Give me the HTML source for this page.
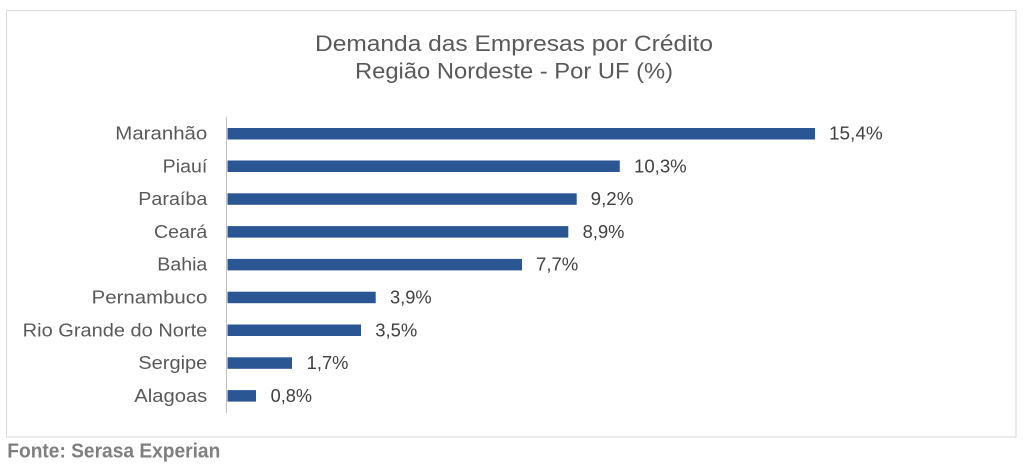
<!DOCTYPE html>
<html><head><meta charset="utf-8"><style>
html,body{margin:0;padding:0;background:#fff;}
svg{display:block;}
text{font-family:"Liberation Sans",Arial,sans-serif;}
</style></head><body>
<svg width="1024" height="468" viewBox="0 0 1024 468" xmlns="http://www.w3.org/2000/svg">
<rect x="0" y="0" width="1024" height="468" fill="#fff"/>
<rect x="6.5" y="10.5" width="1009.5" height="426.5" fill="#fff" stroke="#d9d9d9" stroke-width="1"/>
<g fill="#595959" font-size="22" text-anchor="middle">
<text x="514" y="51" textLength="398" lengthAdjust="spacingAndGlyphs">Demanda das Empresas por Crédito</text>
<text x="514" y="78.5" textLength="318" lengthAdjust="spacingAndGlyphs">Região Nordeste - Por UF (%)</text>
</g>
<line x1="226.5" y1="117" x2="226.5" y2="413" stroke="#bfbfbf" stroke-width="1"/>
<g fill="#2b5694">
<rect x="227.5" y="128" width="587.5" height="11.5"/>
<rect x="227.5" y="160.5" width="392.3" height="11.5"/>
<rect x="227.5" y="193.3" width="349.2" height="11.5"/>
<rect x="227.5" y="226.1" width="340.8" height="11.5"/>
<rect x="227.5" y="258.9" width="294.5" height="11.5"/>
<rect x="227.5" y="291.7" width="148.2" height="11.5"/>
<rect x="227.5" y="324.5" width="133.5" height="11.5"/>
<rect x="227.5" y="357.3" width="64.5" height="11.5"/>
<rect x="227.5" y="390.1" width="28.5" height="11.5"/>
</g>
<g fill="#595959" font-size="18" text-anchor="end">
<text x="207.3" y="139.5" textLength="92" lengthAdjust="spacingAndGlyphs">Maranhão</text>
<text x="207.3" y="172.3" textLength="44.6" lengthAdjust="spacingAndGlyphs">Piauí</text>
<text x="207.3" y="205.1" textLength="69" lengthAdjust="spacingAndGlyphs">Paraíba</text>
<text x="207.3" y="237.9" textLength="53.3" lengthAdjust="spacingAndGlyphs">Ceará</text>
<text x="207.3" y="270.7" textLength="50" lengthAdjust="spacingAndGlyphs">Bahia</text>
<text x="207.3" y="303.5" textLength="115.6" lengthAdjust="spacingAndGlyphs">Pernambuco</text>
<text x="207.3" y="336.3" textLength="184.6" lengthAdjust="spacingAndGlyphs">Rio Grande do Norte</text>
<text x="207.3" y="369.1" textLength="69" lengthAdjust="spacingAndGlyphs">Sergipe</text>
<text x="207.3" y="401.9" textLength="73" lengthAdjust="spacingAndGlyphs">Alagoas</text>
</g>
<g fill="#404040" font-size="18">
<text x="829" y="139.5" textLength="53.7" lengthAdjust="spacingAndGlyphs">15,4%</text>
<text x="634" y="172.3" textLength="52.7" lengthAdjust="spacingAndGlyphs">10,3%</text>
<text x="590.7" y="205.1" textLength="42.7" lengthAdjust="spacingAndGlyphs">9,2%</text>
<text x="582.7" y="237.9" textLength="41.7" lengthAdjust="spacingAndGlyphs">8,9%</text>
<text x="536" y="270.7" textLength="42.3" lengthAdjust="spacingAndGlyphs">7,7%</text>
<text x="390" y="303.5" textLength="41.7" lengthAdjust="spacingAndGlyphs">3,9%</text>
<text x="375.3" y="336.3" textLength="42" lengthAdjust="spacingAndGlyphs">3,5%</text>
<text x="306.7" y="369.1" textLength="41.7" lengthAdjust="spacingAndGlyphs">1,7%</text>
<text x="270.7" y="401.9" textLength="41.3" lengthAdjust="spacingAndGlyphs">0,8%</text>
</g>
<text x="7.3" y="457.3" fill="#7f7f7f" font-size="20" font-weight="bold" textLength="213" lengthAdjust="spacingAndGlyphs">Fonte: Serasa Experian</text>
</svg>
</body></html>
